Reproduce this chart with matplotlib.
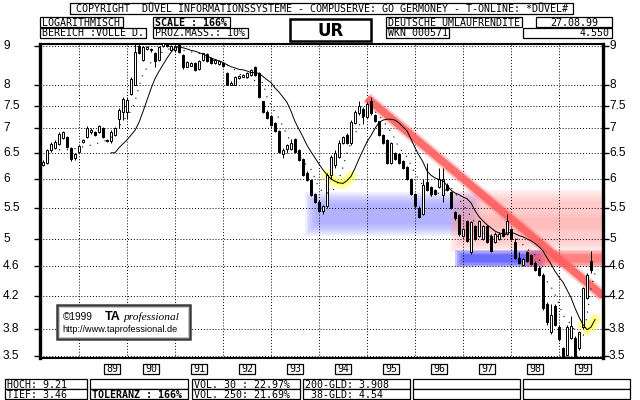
import numpy as np
import matplotlib
matplotlib.use("Agg")
import matplotlib.pyplot as plt
from matplotlib.patches import Rectangle
from matplotlib.ticker import FixedLocator, NullLocator, NullFormatter
from matplotlib.transforms import blended_transform_factory

# ---------------- data (monthly candles, Mar 1988 .. Aug 1999) ----------------
START_YEAR = 1988
START_MONTH = 3

opens = [6.27, 6.30, 6.55, 6.60, 6.68, 6.80, 6.82, 6.60, 6.40, 6.52,
         6.72, 6.82, 6.93, 6.92, 6.92, 7.00, 6.76, 6.73, 6.87, 7.20,
         7.37, 7.37, 7.78, 8.00, 9.00, 8.63, 8.92, 8.92, 8.82, 8.63,
         9.00, 9.08, 8.90, 8.88, 9.08, 8.76, 8.45, 8.48, 8.54, 8.39,
         8.63, 8.78, 8.67, 8.54, 8.52, 8.54, 8.30, 8.00, 8.00, 8.17,
         8.20, 8.20, 8.24, 8.45, 8.30, 7.60, 7.37, 7.27, 7.12, 6.95,
         6.48, 6.57, 6.57, 6.77, 6.55, 6.37, 6.12, 5.98, 5.73, 5.60,
         5.44, 5.52, 6.07, 6.27, 6.42, 6.70, 6.86, 6.70, 7.12, 7.33,
         7.43, 7.25, 7.60, 7.30, 7.15, 6.86, 6.75, 6.30, 6.50, 6.48,
         6.33, 6.23, 6.00, 5.73, 5.50, 5.40, 5.95, 5.85, 5.80, 5.85,
         5.72, 5.90, 5.76, 5.42, 5.37, 5.05, 5.28, 4.80, 5.20, 5.05,
         5.00, 5.20, 5.05, 4.95, 5.00, 5.15, 5.08, 5.15, 4.95, 4.72,
         4.62, 4.80, 4.76, 4.65, 4.58, 4.48, 4.10, 3.76, 4.07, 3.82,
         3.58, 3.51, 3.70, 3.70, 3.58, 3.82, 4.18, 4.67]
closes = [6.32, 6.55, 6.68, 6.72, 6.88, 6.92, 6.62, 6.37, 6.48, 6.63,
          6.76, 7.02, 6.97, 6.86, 7.05, 6.82, 6.74, 6.93, 7.00, 7.40,
          7.65, 7.63, 8.15, 8.84, 8.80, 8.98, 8.96, 8.88, 8.60, 8.98,
          9.10, 9.00, 9.00, 9.00, 8.84, 8.45, 8.57, 8.55, 8.36, 8.59,
          8.80, 8.60, 8.54, 8.62, 8.60, 8.47, 8.00, 8.05, 8.20, 8.22,
          8.25, 8.30, 8.36, 8.24, 7.70, 7.35, 7.22, 7.07, 6.95, 6.52,
          6.56, 6.66, 6.70, 6.52, 6.35, 6.07, 5.98, 5.72, 5.60, 5.45,
          5.52, 6.08, 6.42, 6.50, 6.70, 6.82, 6.70, 7.14, 7.37, 7.50,
          7.27, 7.55, 7.33, 7.15, 6.86, 6.70, 6.30, 6.70, 6.38, 6.30,
          6.20, 6.00, 5.73, 5.52, 5.34, 5.90, 5.80, 5.73, 5.73, 6.00,
          6.00, 5.80, 5.50, 5.32, 5.07, 5.15, 4.97, 5.26, 5.00, 5.28,
          5.20, 4.95, 4.82, 5.08, 5.08, 5.05, 5.28, 5.00, 4.72, 4.65,
          4.70, 4.68, 4.63, 4.55, 4.48, 4.05, 3.88, 3.96, 3.85, 3.68,
          3.47, 3.82, 3.83, 3.50, 3.76, 4.30, 4.48, 4.55]
highs = [6.35, 6.58, 6.72, 6.75, 6.92, 6.95, 6.85, 6.62, 6.50, 6.66,
         6.78, 7.05, 7.00, 6.94, 7.08, 7.03, 6.78, 6.96, 7.03, 7.45,
         7.70, 7.70, 8.20, 9.20, 9.10, 9.00, 9.00, 8.95, 8.85, 9.00,
         9.21, 9.12, 9.02, 9.02, 9.10, 8.78, 8.60, 8.57, 8.56, 8.62,
         8.82, 8.80, 8.70, 8.64, 8.62, 8.56, 8.32, 8.08, 8.22, 8.24,
         8.27, 8.32, 8.40, 8.47, 8.32, 7.62, 7.40, 7.29, 7.14, 6.97,
         6.60, 6.68, 6.78, 6.80, 6.57, 6.39, 6.14, 6.00, 5.75, 5.62,
         5.55, 6.12, 6.45, 6.55, 6.75, 6.84, 6.90, 7.18, 7.40, 7.60,
         7.48, 7.58, 7.70, 7.32, 7.17, 6.88, 6.77, 6.72, 6.52, 6.50,
         6.35, 6.25, 6.02, 5.75, 5.52, 6.00, 6.30, 5.87, 5.82, 6.20,
         6.20, 5.92, 5.78, 5.44, 5.39, 5.17, 5.30, 5.28, 5.22, 5.30,
         5.22, 5.22, 5.07, 5.10, 5.10, 5.17, 5.40, 5.17, 5.02, 4.80,
         4.72, 4.82, 4.78, 4.67, 4.60, 4.50, 4.12, 4.10, 4.10, 3.85,
         3.60, 3.85, 3.95, 3.72, 3.78, 4.32, 4.50, 4.82]
lows = [6.25, 6.28, 6.52, 6.57, 6.65, 6.78, 6.60, 6.34, 6.36, 6.50,
        6.70, 6.80, 6.88, 6.84, 6.90, 6.80, 6.72, 6.70, 6.85, 7.00,
        7.18, 7.20, 7.75, 7.98, 8.78, 8.60, 8.90, 8.85, 8.45, 8.60,
        8.98, 8.98, 8.88, 8.85, 8.82, 8.40, 8.43, 8.46, 8.33, 8.37,
        8.60, 8.58, 8.52, 8.52, 8.50, 8.45, 7.98, 7.98, 7.98, 8.15,
        8.18, 8.18, 8.22, 8.22, 7.68, 7.33, 7.20, 7.05, 6.93, 6.50,
        6.40, 6.50, 6.55, 6.50, 6.33, 6.05, 5.96, 5.70, 5.58, 5.42,
        5.40, 5.50, 6.00, 6.20, 6.40, 6.68, 6.68, 6.65, 7.10, 7.30,
        7.10, 7.23, 7.30, 7.13, 6.84, 6.68, 6.28, 6.28, 6.36, 6.28,
        6.18, 5.98, 5.71, 5.50, 5.32, 5.38, 5.78, 5.70, 5.71, 5.83,
        5.60, 5.78, 5.48, 5.30, 5.05, 5.03, 4.95, 4.78, 4.98, 5.03,
        4.98, 4.93, 4.80, 4.93, 4.98, 5.03, 5.06, 4.98, 4.70, 4.63,
        4.60, 4.66, 4.61, 4.53, 4.46, 4.03, 3.85, 3.74, 3.83, 3.66,
        3.46, 3.50, 3.68, 3.48, 3.56, 3.80, 4.16, 4.50]

# 200-GLD (solid line), starts at candle no. 18
ma200_start = 18
ma200 = [6.50, 6.50, 6.60, 6.68, 6.76, 6.86, 6.96, 7.13, 7.37, 7.63,
         7.90, 8.15, 8.33, 8.50, 8.67, 8.83, 8.95, 8.98, 8.95, 8.92,
         8.88, 8.86, 8.82, 8.78, 8.73, 8.68, 8.64, 8.60, 8.56, 8.50,
         8.45, 8.42, 8.38, 8.37, 8.34, 8.30, 8.30, 8.28, 8.20, 8.12,
         8.05, 7.92, 7.82, 7.70, 7.58, 7.38, 7.15, 6.98, 6.82, 6.65,
         6.52, 6.40, 6.28, 6.17, 6.08, 6.00, 5.96, 5.93, 5.92, 5.97,
         6.05, 6.20, 6.38, 6.55, 6.72, 6.85, 7.00, 7.13, 7.18, 7.20,
         7.20, 7.18, 7.12, 7.03, 6.95, 6.78, 6.60, 6.45, 6.32, 6.15,
         6.07, 6.02, 5.99, 5.97, 5.88, 5.80, 5.75, 5.72, 5.68, 5.65,
         5.58, 5.45, 5.35, 5.28, 5.22, 5.17, 5.12, 5.09, 5.08, 5.09,
         5.10, 5.08, 5.05, 5.03, 5.00, 4.97, 4.93, 4.88, 4.82, 4.72,
         4.63, 4.53, 4.45, 4.38, 4.28, 4.18, 4.05, 3.94, 3.85, 3.79,
         3.82, 3.91]

# 38-GLD (dotted line), sampled at candle numbers
dot_idx = [5, 8, 10, 14, 16, 17, 19, 20, 23, 24, 25, 26, 29, 31, 33, 36, 40,
           43, 45, 48, 51, 53, 56, 57, 58.5, 60, 62, 63.5, 66, 68, 69.5, 71,
           73, 74.5, 76, 77, 78.5, 80, 81, 83, 84.5, 87, 88.5, 90, 92, 93.5,
           95, 97, 98, 100, 103, 106, 108.5, 111, 113.5, 116, 118, 120, 122,
           125, 126, 128.5, 130, 131, 132.5, 134.5, 136, 137, 138, 139]
dot_val = [6.56, 6.56, 6.60, 6.67, 6.73, 6.75, 6.86, 7.05, 7.38, 7.60, 7.95,
           8.28, 8.70, 8.85, 8.94, 8.88, 8.80, 8.63, 8.57, 8.45, 8.20, 8.12,
           8.05, 7.70, 7.43, 7.22, 6.86, 6.65, 6.33, 6.18, 5.92, 5.75, 5.75,
           5.90, 6.22, 6.50, 6.80, 7.05, 7.27, 7.37, 7.35, 7.05, 6.86, 6.60,
           6.42, 6.18, 5.98, 5.80, 5.70, 5.75, 5.85, 5.55, 5.30, 5.08, 5.03,
           5.05, 5.10, 4.97, 4.85, 4.72, 4.47, 4.28, 4.10, 3.96, 3.88, 3.75,
           3.70, 3.95, 4.30, 4.50]

ytick_vals = [9, 8, 7.5, 7, 6.5, 6, 5.5, 5, 4.6, 4.2, 3.8, 3.5]
ytick_labels = ["9", "8", "7.5", "7", "6.5", "6", "5.5", "5", "4.6", "4.2", "3.8", "3.5"]
years = [1989, 1990, 1991, 1992, 1993, 1994, 1995, 1996, 1997, 1998, 1999]
year_labels = ["89", "90", "91", "92", "93", "94", "95", "96", "97", "98", "99"]

# annotation geometry (x in years, y in yield)
trend_x = [1995.0, 1999.92]
trend_y = [7.68, 4.20]

# ---------------- figure ----------------
MONO = "DejaVu Sans Mono"
fig = plt.figure(figsize=(6.4, 4.0), dpi=100)
fig.patch.set_facecolor("white")

ax = fig.add_axes([40 / 640, 42 / 400, 563 / 640, 314 / 400])
ax.set_yscale("log")
ax.set_ylim(3.477, 9.055)
ax.set_xlim(1988.1875, 1999.917)

o = np.array(opens); c = np.array(closes)
h = np.array(highs); l = np.array(lows)
n = len(o)
x = START_YEAR + (START_MONTH + np.arange(n)) / 12.0

def cx(idx):
    return START_YEAR + (START_MONTH + np.asarray(idx, dtype=float) - 1) / 12.0

# soft bands
def soft_band(x0, x1, v0, v1, color, layers=7, alpha=0.13, dx=0.04, fy=1.006):
    for k in range(layers, 0, -1):
        ax.fill_between([x0 - k * dx, x1 + k * dx], [v0 / fy ** k] * 2, [v1 * fy ** k] * 2,
                        color=color, alpha=alpha, lw=0, zorder=1)

soft_band(1993.98, 1997.1, 5.26, 5.53, "#8080ff", alpha=0.12)
soft_band(1997.0, 2000.2, 5.32, 5.58, "#ffa0a0", alpha=0.10)
soft_band(1997.0, 2000.2, 4.99, 5.18, "#ffa0a0", alpha=0.10)
soft_band(1997.04, 1998.5, 4.675, 4.735, "#4848ff", layers=5, alpha=0.28, fy=1.004)
soft_band(1998.5, 2000.2, 4.675, 4.735, "#ff6060", layers=5, alpha=0.26, fy=1.004)

# trend line
ax.plot(trend_x, trend_y, color="#ff6a6a", lw=8.5, alpha=0.35, solid_capstyle="butt", zorder=2)
ax.plot(trend_x, trend_y, color="#ff5c5c", lw=5.5, alpha=0.85, solid_capstyle="butt", zorder=2)

# 200-GLD + yellow glows
xm = cx(np.arange(ma200_start, ma200_start + len(ma200)))
ma = np.array(ma200)
for a0, a1 in [(72, 79), (136, 140)]:
    s = slice(a0 - ma200_start, a1 - ma200_start)
    ax.plot(xm[s], ma[s], color="#ffff50", lw=8, alpha=0.45, solid_capstyle="round", zorder=2.5)
    ax.plot(xm[s], ma[s], color="#ffff30", lw=4, alpha=0.5, solid_capstyle="round", zorder=2.5)
ax.plot(xm, ma, color="black", lw=0.7, zorder=5)

# 38-GLD dotted
ax.plot(cx(dot_idx), dot_val, color="black", lw=0.8, linestyle=(0, (1, 6)), zorder=5)

# candles
ax.vlines(x, l, h, color="black", lw=0.7, zorder=3)
fill = ["white" if cc >= oo else "black" for oo, cc in zip(o, c)]
ax.bar(x, np.maximum(np.abs(c - o), 0.012), bottom=np.minimum(o, c), width=0.055,
       color=fill, edgecolor="black", linewidth=0.7, zorder=4)

# axes styling
ax.yaxis.set_major_locator(FixedLocator(ytick_vals))
ax.yaxis.set_minor_locator(NullLocator())
ax.yaxis.set_major_formatter(NullFormatter())
ax.yaxis.set_minor_formatter(NullFormatter())
ax.set_xticks(years)
ax.set_xticklabels([])
ax.tick_params(axis="x", length=0)
ax.tick_params(axis="y", direction="out", length=4, width=1, left=True, right=True)
ax.grid(True, color="black", linestyle=(0, (1, 2)), linewidth=0.7)
for side, w in [("left", 2.4), ("right", 2.4), ("top", 1.5), ("bottom", 1.5)]:
    ax.spines[side].set_linewidth(w)

ytr = blended_transform_factory(fig.transFigure, ax.transData)
for v, lab in zip(ytick_vals, ytick_labels):
    fig.text(3 / 640, v, lab, transform=ytr, ha="left", va="center",
             fontsize=8.6, family="Liberation Sans")
    fig.text(609 / 640, v, lab, transform=ytr, ha="left", va="center",
             fontsize=8.6, family="Liberation Sans")

# ---------------- overlay in pixel coordinates ----------------
ov = fig.add_axes([0, 0, 1, 1])
ov.set_xlim(0, 640)
ov.set_ylim(400, 0)
ov.axis("off")
ov.patch.set_visible(False)

def box(x0, y0, x1, y1, text="", align="left", bold=False, lw=0.9, size=7.2, fam=MONO):
    ov.add_patch(Rectangle((x0, y0), x1 - x0, y1 - y0, fill=True, facecolor="white",
                           edgecolor="black", lw=lw))
    if text:
        if align == "left":
            tx, ha = x0 + 2, "left"
        elif align == "right":
            tx, ha = x1 - 2, "right"
        else:
            tx, ha = (x0 + x1) / 2, "center"
        ov.text(tx, (y0 + y1) / 2 + 0.5, text, ha=ha, va="center", fontsize=size,
                family=fam, fontweight="bold" if bold else "normal")

box(70, 3, 573, 14, "COPYRIGHT  DÜVEL INFORMATIONSSYSTEME - COMPUSERVE: GO GERMONEY - T-ONLINE: *DÜVEL#",
    align="center")
box(40, 17, 123, 27, "LOGARITHMISCH")
box(40, 28, 146, 38, "BEREICH :VOLLE D.")
box(153, 17, 230, 27, "SCALE : 166%", bold=True)
box(153, 28, 248, 38, "PROZ.MASS.: 10%")
box(290, 19, 371, 41, "UR", align="center", bold=True, lw=1.8, size=12, fam="DejaVu Sans")
box(386, 17, 522, 27, "DEUTSCHE UMLAUFRENDITE")
box(386, 28, 449, 38, "WKN 000571")
box(536, 17, 612, 27, "27.08.99", align="center")
box(523, 28, 612, 38, "4.550", align="right")

# year labels
for yr, lab in zip(years, year_labels):
    xc = 112 if lab == "89" else 79 + (yr - 1989) * 48 + 24
    box(xc - 8, 364, xc + 8, 374, lab, align="center")

# footer
box(5, 379, 87, 389, "HOCH: 9.21")
box(5, 389, 87, 399, "TIEF: 3.46")
box(90, 379, 188, 389)
box(90, 389, 188, 399, "TOLERANZ : 166%", bold=True)
box(192, 379, 300, 389, "VOL. 30 : 22.97%")
box(192, 389, 300, 399, "VOL. 250: 21.69%")
box(303, 379, 410, 389, "200-GLD: 3.908")
box(303, 389, 410, 399, " 38-GLD: 4.54")
box(413, 379, 520, 389)
box(413, 389, 520, 399)
box(523, 379, 630, 389)
box(523, 389, 630, 399)

# logo
ov.add_patch(Rectangle((57, 305), 133, 34, facecolor="white", edgecolor="#3a3a3a", lw=1.8))
ov.add_patch(Rectangle((59, 307), 129, 30, fill=False, edgecolor="#bbbbbb", lw=0.6))
ov.text(63, 316.5, "©1999", fontsize=7.3, family="Liberation Sans", ha="left", va="center")
ov.text(105, 316.5, "TA", fontsize=9, family="Liberation Sans", fontweight="bold", ha="left", va="center")
ov.text(124, 317, "professional", fontsize=8.2, family="Liberation Serif", style="italic",
        ha="left", va="center")
ov.text(62, 329.5, "http://www.taprofessional.de", fontsize=6.6, family="Liberation Sans",
        ha="left", va="center")

fig.savefig("out.png", dpi=100)
